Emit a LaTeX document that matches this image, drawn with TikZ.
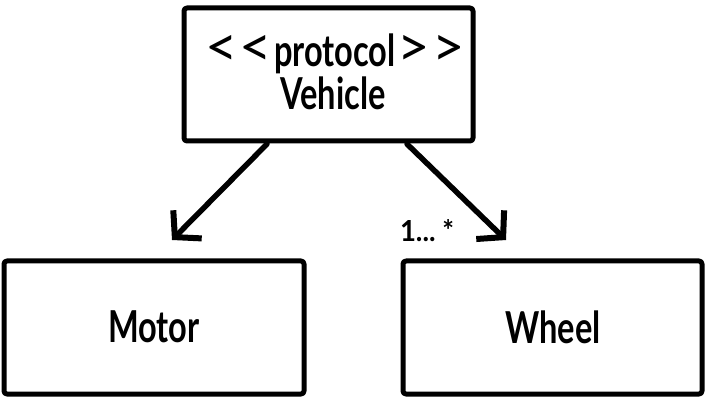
\documentclass[tikz,border=0pt]{standalone}
\usepackage{fontspec}
\setmainfont{Lato}
\usetikzlibrary{arrows.meta}
\newcommand{\ltb}{{\fontsize{56}{56}\selectfont\mdseries<}}
\newcommand{\gtb}{{\fontsize{56}{56}\selectfont\mdseries>}}
\begin{document}
\begin{tikzpicture}[x=1pt,y=-1pt,
  box/.style={draw=black,line width=5pt,rounded corners=3pt,line join=round},
  lbl/.style={font=\fontsize{44}{46}\selectfont\bfseries,align=center,inner sep=0pt},
  conn/.style={line width=5.5pt,line cap=round,-{Straight Barb[length=18pt,width=40pt,line width=6pt]}}]
\useasboundingbox (0,0) rectangle (709,403);
\fill[white] (0,0) rectangle (709,403);
\draw[box] (184,8) rectangle (473,141);
\draw[box] (4,261) rectangle (304,394);
\draw[box] (403,261) rectangle (702,394);
\node[lbl,anchor=base] (proto) at (335,67) {\ltb\hspace{2pt}\ltb\hspace{2pt}\scalebox{0.74}[1]{protocol}\hspace{2pt}\gtb\hspace{2pt}\gtb};
\node[lbl,anchor=base] (veh) at (333,110) {\scalebox{0.74}[1]{Vehicle}};
\node[lbl] (motor) at (154,327) {\scalebox{0.74}[1]{Motor}};
\node[lbl] (wheel) at (553,327) {\scalebox{0.74}[1]{Wheel}};
\coordinate (vl) at (267,144);
\coordinate (vr) at (407,144);
\coordinate (ml) at (172,240);
\coordinate (wr) at (506,240);
\draw[conn] (vl) -- (ml);
\draw[conn] (vr) -- (wr);
\node[font=\fontsize{29}{30}\selectfont\bfseries,inner sep=0pt] (mult) at (427,231) {\scalebox{0.95}[1]{1...\ *}};
\end{tikzpicture}
\end{document}
